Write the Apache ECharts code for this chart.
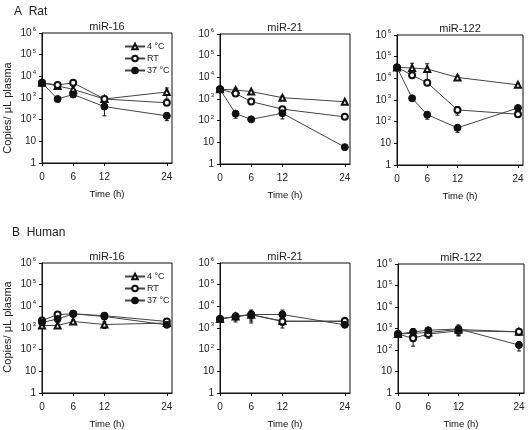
<!DOCTYPE html>
<html><head><meta charset="utf-8">
<script src="https://cdn.jsdelivr.net/npm/echarts@6/dist/echarts.min.js"></script>
<style>html,body{margin:0;padding:0;background:#fff}#c{width:531px;height:430px}</style>
</head><body><div id="c"></div>
<script>
// ---- data ----
const times = [0, 3, 6, 12, 24];
const conditions = ['4 °C', 'RT', '37 °C'];
const panelTitles = ['miR-16', 'miR-21', 'miR-122', 'miR-16', 'miR-21', 'miR-122'];
const xTickLabels = [0, 6, 12, 24];
const yTickLabels = ['1', '10', '10^2', '10^3', '10^4', '10^5', '10^6'];

// Rat
const ratMiR16_4C  = [5000, 3600, 2500, 900, 1900];
const ratMiR16_RT  = [5000, 4000, 5000, 900, 600];
const ratMiR16_37C = [5000, 900, 1450, 400, 150];
const ratMiR16_4C_err  = [0, 0, 800, 200, 1000];
const ratMiR16_RT_err  = [0, 500, 500, 150, 100];
const ratMiR16_37C_err = [0, 250, 400, 250, 60];

const ratMiR21_4C  = [2800, 2600, 2200, 1150, 750];
const ratMiR21_RT  = [2800, 1800, 760, 340, 150];
const ratMiR21_37C = [2800, 210, 115, 220, 6];
const ratMiR21_4C_err  = [0, 500, 300, 200, 100];
const ratMiR21_RT_err  = [0, 300, 100, 80, 20];
const ratMiR21_37C_err = [0, 80, 20, 100, 1];

const ratMiR122_4C  = [32000, 30000, 27000, 11000, 5000];
const ratMiR122_RT  = [32000, 14000, 6300, 350, 220];
const ratMiR122_37C = [32000, 1200, 210, 52, 430];
const ratMiR122_4C_err  = [0, 20000, 20000, 2000, 1000];
const ratMiR122_RT_err  = [0, 3000, 1000, 150, 60];
const ratMiR122_37C_err = [0, 200, 80, 20, 100];

// Human
const humMiR16_4C  = [1300, 1300, 2000, 1450, 1700];
const humMiR16_RT  = [2200, 4200, 4500, 3700, 2000];
const humMiR16_37C = [1800, 2600, 4500, 3400, 1400];
const humMiR16_4C_err  = [0, 200, 400, 500, 300];
const humMiR16_RT_err  = [0, 1000, 800, 1000, 400];
const humMiR16_37C_err = [0, 800, 800, 1000, 300];

const humMiR21_4C  = [2600, 3400, 4100, 2100, 2000];
const humMiR21_RT  = [2600, 3400, 4100, 2000, 2100];
const humMiR21_37C = [2600, 3400, 4200, 4200, 1400];
const humMiR21_4C_err  = [0, 800, 1500, 800, 600];
const humMiR21_RT_err  = [0, 1000, 2000, 1000, 800];
const humMiR21_37C_err = [0, 1500, 2500, 2500, 200];

const humMiR122_4C  = [550, 600, 650, 900, 700];
const humMiR122_RT  = [550, 350, 550, 780, 700];
const humMiR122_37C = [550, 700, 830, 950, 170];
const humMiR122_4C_err  = [0, 200, 200, 300, 200];
const humMiR122_RT_err  = [0, 200, 200, 300, 200];
const humMiR122_37C_err = [0, 300, 200, 500, 80];

const panels = [
  [ratMiR16_4C, ratMiR16_RT, ratMiR16_37C],
  [ratMiR21_4C, ratMiR21_RT, ratMiR21_37C],
  [ratMiR122_4C, ratMiR122_RT, ratMiR122_37C],
  [humMiR16_4C, humMiR16_RT, humMiR16_37C],
  [humMiR21_4C, humMiR21_RT, humMiR21_37C],
  [humMiR122_4C, humMiR122_RT, humMiR122_37C]
];
const panelErrs = [
  [ratMiR16_4C_err, ratMiR16_RT_err, ratMiR16_37C_err],
  [ratMiR21_4C_err, ratMiR21_RT_err, ratMiR21_37C_err],
  [ratMiR122_4C_err, ratMiR122_RT_err, ratMiR122_37C_err],
  [humMiR16_4C_err, humMiR16_RT_err, humMiR16_37C_err],
  [humMiR21_4C_err, humMiR21_RT_err, humMiR21_37C_err],
  [humMiR122_4C_err, humMiR122_RT_err, humMiR122_37C_err]
];

// ---- layout ----
const gridPos = [
  {left: 42, top: 33, width: 130, height: 130},
  {left: 220, top: 34, width: 130, height: 130},
  {left: 397, top: 35, width: 126, height: 130},
  {left: 42, top: 263, width: 130, height: 130},
  {left: 220, top: 263, width: 130, height: 130},
  {left: 398, top: 264, width: 126, height: 129}
];
const FONT = '"Liberation Sans", Arial, sans-serif';
const symbols = ['emptyTriangle', 'emptyCircle', 'circle'];
const symSizes = [6, 6, 7];

const chart = echarts.init(document.getElementById('c'), null, {renderer: 'canvas'});

const grids = gridPos.map(g => Object.assign({show: true, borderColor: '#111', borderWidth: 1, backgroundColor: '#fff'}, g));

const xAxes = gridPos.map((g, i) => ({
  type: 'value', gridIndex: i, min: 0, max: 25,
  name: 'Time (h)', nameLocation: 'middle', nameGap: 26,
  nameTextStyle: {fontFamily: FONT, fontSize: 9.5, color: '#111', fontWeight: 'normal'},
  axisLine: {show: true, lineStyle: {color: '#111'}},
  axisTick: {show: true, length: 3, lineStyle: {color: '#111'}, customValues: xTickLabels},
  axisLabel: {fontFamily: FONT, fontSize: 10, color: '#222', margin: 9, customValues: xTickLabels},
  splitLine: {show: false}
}));

function yFmt(v) {
  const idx = Math.round(Math.log10(v));
  const s = yTickLabels[idx];
  if (s === undefined) return '';
  if (s.indexOf('^') < 0) return s;
  const p = s.split('^');
  return p[0] + '{s|' + p[1] + '}';
}

const yAxes = gridPos.map((g, i) => ({
  type: 'log', logBase: 10, gridIndex: i, min: 1, max: 1e6,
  axisLine: {show: true, lineStyle: {color: '#111'}},
  axisTick: {show: true, length: 3, lineStyle: {color: '#111'}},
  axisLabel: {fontFamily: FONT, fontSize: 10, color: '#222', margin: 6, formatter: yFmt,
    rich: {s: {fontSize: 6, fontFamily: FONT, color: '#222', verticalAlign: 'top', padding: [0, 0, 7, 1]}}},
  minorTick: {show: false},
  splitLine: {show: false}
}));

const series = [];
panels.forEach((pvals, i) => {
  pvals.forEach((vals, c) => {
    const errs = panelErrs[i][c];
    series.push({
      type: 'custom', name: 'err', xAxisIndex: i, yAxisIndex: i, z: 1, silent: true,
      data: times.map((t, k) => [t, Math.max(vals[k] - errs[k], 1), vals[k] + errs[k]]),
      encode: {x: 0, y: [1, 2]},
      renderItem: function (params, api) {
        const x = api.value(0), lo = api.value(1), hi = api.value(2);
        if (hi <= lo) return null;
        const p1 = api.coord([x, lo]), p2 = api.coord([x, hi]);
        const w = 2;
        return {type: 'group', children: [
          {type: 'line', shape: {x1: p1[0], y1: p1[1], x2: p2[0], y2: p2[1]}, style: {stroke: '#111', lineWidth: 1}},
          {type: 'line', shape: {x1: p1[0] - w, y1: p1[1], x2: p1[0] + w, y2: p1[1]}, style: {stroke: '#111', lineWidth: 1}},
          {type: 'line', shape: {x1: p2[0] - w, y1: p2[1], x2: p2[0] + w, y2: p2[1]}, style: {stroke: '#111', lineWidth: 1}}
        ]};
      }
    });
  });
  pvals.forEach((vals, c) => {
    series.push({
      type: 'line', name: conditions[c], xAxisIndex: i, yAxisIndex: i, z: 3 + c,
      data: times.map((t, k) => [t, vals[k]]),
      symbol: symbols[c], symbolSize: symSizes[c], showAllSymbol: true,
      lineStyle: {color: '#444', width: 1},
      itemStyle: {color: '#111', borderColor: '#111', borderWidth: 1},
      emphasis: {disabled: true}, animation: false
    });
  });
});

const titleCenters = gridPos.map(g => g.left + g.width / 2);
const titles = panelTitles.map((t, i) => ({
  text: t, left: titleCenters[i], textAlign: 'center', top: gridPos[i].top - 12, padding: 0,
  textStyle: {fontFamily: FONT, fontSize: 11, fontWeight: 'normal', color: '#222'}
}));

const legendBase = {
  orient: 'vertical', data: conditions, itemWidth: 20, itemHeight: 7, itemGap: 3, padding: 0,
  selectedMode: false,
  textStyle: {fontFamily: FONT, fontSize: 9, color: '#222', padding: [0, 0, 0, -3]}
};
const legends = [
  Object.assign({}, legendBase, {left: 124, top: 42}),
  Object.assign({}, legendBase, {left: 124, top: 272})
];

const graphics = [
  {type: 'text', left: 14, top: 6, style: {text: 'A  Rat', font: '12px ' + FONT, fill: '#222'}},
  {type: 'text', left: 12, top: 227, style: {text: 'B  Human', font: '12px ' + FONT, fill: '#222'}},
  {type: 'text', x: 2, y: 108, rotation: Math.PI / 2, style: {text: 'Copies/ μL plasma', font: '11px ' + FONT, fill: '#222', align: 'center', verticalAlign: 'top'}},
  {type: 'text', x: 2, y: 327, rotation: Math.PI / 2, style: {text: 'Copies/ μL plasma', font: '11px ' + FONT, fill: '#222', align: 'center', verticalAlign: 'top'}}
];

chart.setOption({
  animation: false,
  backgroundColor: '#fff',
  title: titles,
  legend: legends,
  grid: grids,
  xAxis: xAxes,
  yAxis: yAxes,
  series: series,
  graphic: graphics
});
</script></body></html>
